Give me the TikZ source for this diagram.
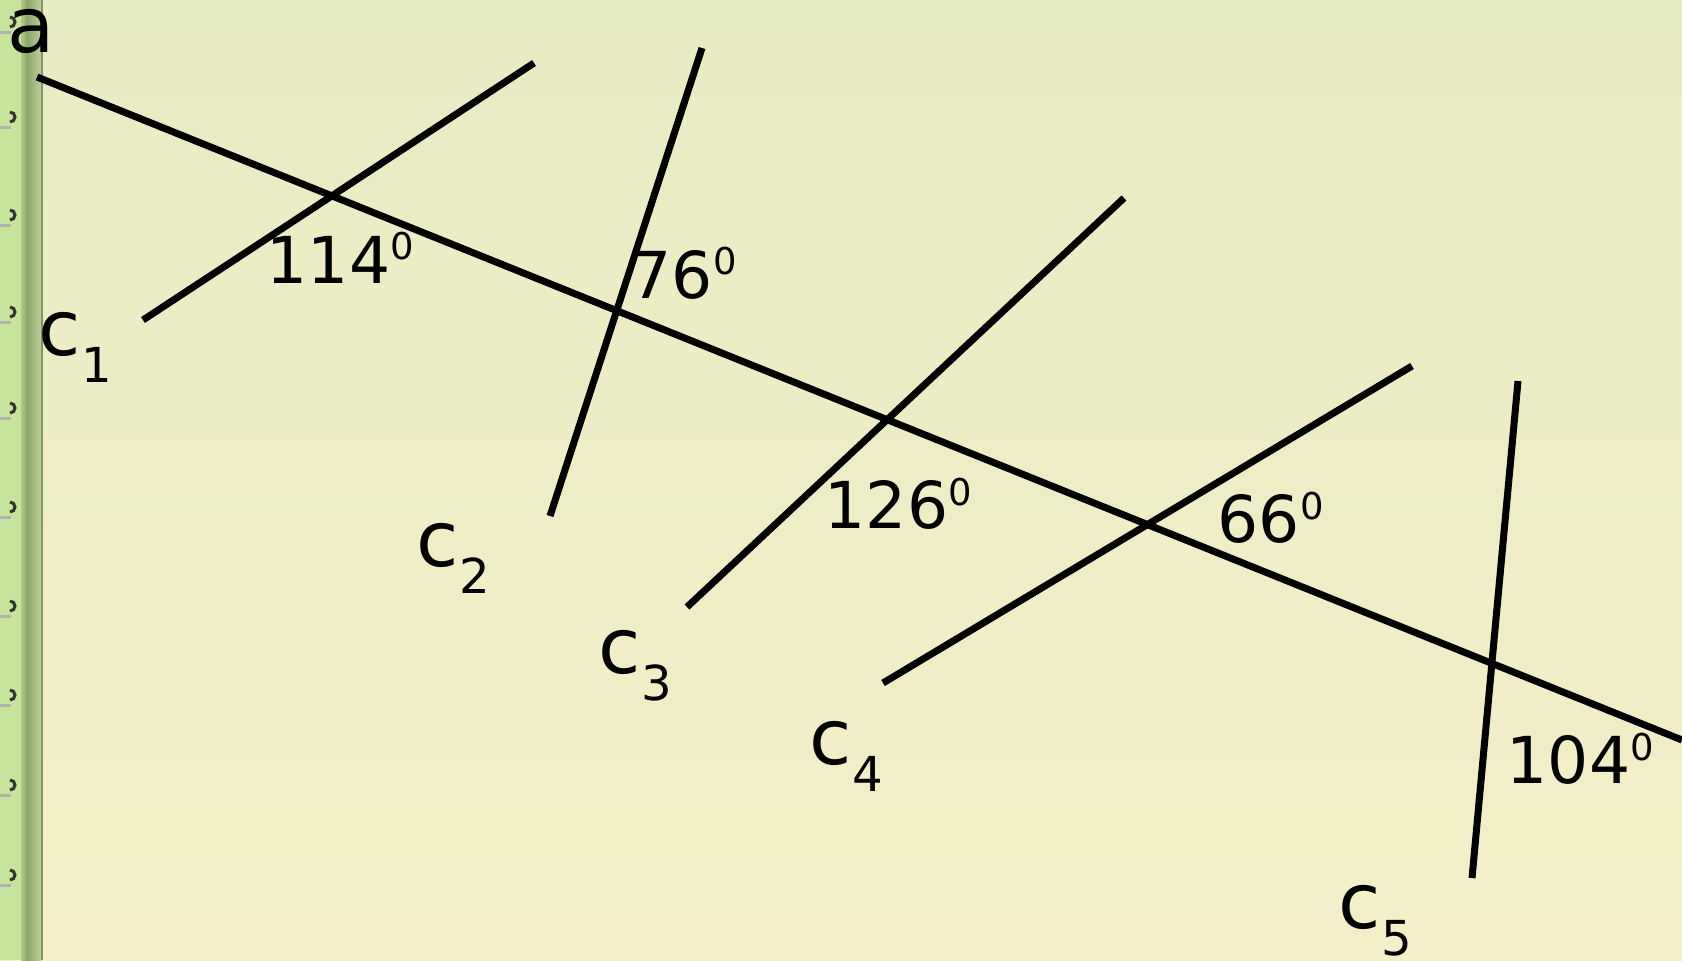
\documentclass[tikz,border=0pt]{standalone}
\usepackage{fontspec}
\setmainfont{DejaVu Sans}
\usetikzlibrary{calc}

\definecolor{pagetop}{HTML}{E8ECC3}
\definecolor{pagebot}{HTML}{F4EFC8}
\definecolor{stripgreen}{HTML}{C6E49C}
\definecolor{stripdark}{HTML}{8EA66A}
\definecolor{stripedge}{HTML}{BDD09A}

% label helpers
\newcommand\lsub[1]{\raisebox{-0.27cm}{\fontsize{13.7}{14}\selectfont #1}}
\newcommand\ldeg[1]{#1\raisebox{0.23cm}{\fontsize{10.5}{11}\selectfont 0}}

\begin{document}
\begin{tikzpicture}[
  x=0.01cm, y=-0.01cm,
  trans/.style={line width=0.07cm},
  cname/.style={anchor=base west, inner sep=0, font=\fontsize{21.9}{24}\selectfont},
  degtext/.style={anchor=base west, inner sep=0, font=\fontsize{18.4}{20}\selectfont},
  hook/.style={line width=0.03cm, black!80}
]
\useasboundingbox (0,0) rectangle (1682,960);
% page and binding strip
\shade[top color=pagetop, bottom color=pagebot] (0,0) rectangle (1682,960);
\fill[stripgreen] (0,0) rectangle (21,960);
\shade[left color=stripgreen!60!stripdark, right color=stripdark] (21,0) rectangle (27,960);
\shade[left color=stripdark, right color=stripedge] (27,0) rectangle (41,960);
\fill[stripdark!90!black] (41,0) rectangle (43,960);
\foreach \y in {32,127,225,322,418,517,616,705,795,885} {
  \draw[gray!60, line width=0.03cm] (0,\y) -- (11,\y);
  \draw[hook] (10,\y-5) arc (90:-90:5);
}

% endpoints
\coordinate (a0) at (37,77);
\coordinate (a1) at (1682,740);
\coordinate (c1s) at (143,320);
\coordinate (c1e) at (534,63);
\coordinate (c2s) at (550,516);
\coordinate (c2e) at (702,48);
\coordinate (c3s) at (687,607);
\coordinate (c3e) at (1124,198);
\coordinate (c4s) at (883,683);
\coordinate (c4e) at (1412,366);
\coordinate (c5s) at (1472,878);
\coordinate (c5e) at (1518,381);

\draw[trans] (a0) -- (a1);
\draw[trans] (c1s) -- (c1e);
\draw[trans] (c2s) -- (c2e);
\draw[trans] (c3s) -- (c3e);
\draw[trans] (c4s) -- (c4e);
\draw[trans] (c5s) -- (c5e);

% names
\node[cname] (la) at (7,52) {a};
\node[cname] (lc1) at (38,355) {c\lsub{1}};
\node[cname] (lc2) at (416,566) {c\lsub{2}};
\node[cname] (lc3) at (598,673) {c\lsub{3}};
\node[cname] (lc4) at (809,764) {c\lsub{4}};
\node[cname] (lc5) at (1338,928) {c\lsub{5}};

% angles
\node[degtext] (g1) at (266,283) {\ldeg{114}};
\node[degtext] (g2) at (630,298) {\ldeg{76}};
\node[degtext] (g3) at (824,528) {\ldeg{126}};
\node[degtext] (g4) at (1217,542) {\ldeg{66}};
\node[degtext] (g5) at (1506,783) {\ldeg{104}};
\end{tikzpicture}
\end{document}
